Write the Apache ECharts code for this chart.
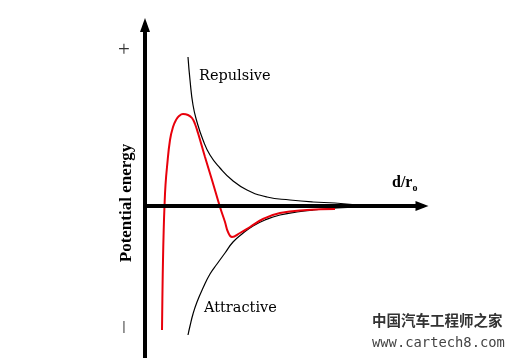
<!DOCTYPE html>
<html>
<head>
<meta charset="utf-8">
<script src="https://cdn.jsdelivr.net/npm/echarts@6/dist/echarts.min.js"></script>
<style>html,body{margin:0;padding:0;background:#fff}#c{width:518px;height:358px}</style>
</head>
<body>
<div id="c"></div>
<script>
// Schematic values (d/r0 units on x, energy units on y)
const repulsiveX = [2.15, 2.25, 2.4, 2.6, 2.9, 3.25, 3.75, 4.35, 5.1, 6.1, 7.25, 8.4, 9.5, 10.65];
const repulsiveY = [7.45, 6.3, 5.05, 4.2, 3.3, 2.55, 1.9, 1.3, 0.8, 0.45, 0.3, 0.2, 0.15, 0.05];

const attractiveX = [2.15, 2.25, 2.4, 2.6, 2.9, 3.25, 3.6, 4.0, 4.4, 4.85, 5.4, 6.0, 6.75, 7.6, 8.4, 9.6, 10.65];
const attractiveY = [-6.45, -6.0, -5.4, -4.8, -4.1, -3.4, -2.9, -2.35, -1.8, -1.4, -1.0, -0.7, -0.45, -0.3, -0.2, -0.1, -0.03];

const netX = [0.85, 0.875, 0.9, 0.935, 0.975, 1.025, 1.1, 1.25, 1.4, 1.55, 1.7, 1.9, 2.15, 2.35, 2.5, 2.65, 3.0, 3.35, 3.75, 4.0, 4.15, 4.35, 4.75, 5.25, 5.9, 6.75, 8.1, 9.5];
const netY = [-6.2, -4.2, -2.7, -1.2, 0, 1.05, 1.95, 3.3, 3.95, 4.3, 4.5, 4.6, 4.55, 4.4, 4.1, 3.65, 2.45, 1.3, -0.05, -0.8, -1.3, -1.55, -1.35, -1.05, -0.65, -0.35, -0.2, -0.15];

const labels = {
  repulsive: 'Repulsive',
  attractive: 'Attractive',
  yName: 'Potential energy',
  plus: '+',
  minus: '|',
  watermark1: '中国汽车工程师之家',
  watermark2: 'www.cartech8.com'
};

const zip = (xs, ys) => xs.map((x, i) => [x, ys[i]]);

const chart = echarts.init(document.getElementById('c'), null, {renderer: 'canvas'});
chart.setOption({
  animation: false,
  backgroundColor: '#fff',
  grid: {left: 145, right: 96, top: 25, bottom: 0, containLabel: false},
  xAxis: {
    type: 'value', min: 0, max: 13.85, z: 10,
    axisLine: {onZero: true, lineStyle: {color: '#000', width: 4}, symbol: ['none', 'triangle'], symbolSize: [10, 13]},
    axisTick: {show: false}, axisLabel: {show: false}, splitLine: {show: false}
  },
  yAxis: {
    type: 'value', min: -7.6, max: 9.05, z: 10,
    axisLine: {onZero: true, lineStyle: {color: '#000', width: 4}, symbol: ['none', 'triangle'], symbolSize: [10, 14]},
    axisTick: {show: false}, axisLabel: {show: false}, splitLine: {show: false}
  },
  series: [
    {type: 'line', data: zip(repulsiveX, repulsiveY), showSymbol: false, smooth: 0.5,
     lineStyle: {color: '#000', width: 1.2}},
    {type: 'line', data: zip(attractiveX, attractiveY), showSymbol: false, smooth: 0.5,
     lineStyle: {color: '#000', width: 1.2}},
    {type: 'line', data: zip(netX, netY), showSymbol: false, smooth: 0.45,
     lineStyle: {color: '#e8000b', width: 2}}
  ],
  graphic: [
    {type: 'text', x: 124, y: 50, style: {text: labels.plus, font: 'normal 21px "Liberation Serif"', fill: '#333', textAlign: 'center', textVerticalAlign: 'middle'}},
    {type: 'text', x: 124, y: 326, style: {text: labels.minus, font: 'normal 13px "Liberation Sans"', fill: '#444', textAlign: 'center', textVerticalAlign: 'middle'}},
    {type: 'text', x: 199, y: 76, style: {text: labels.repulsive, font: 'normal 14.5px "DejaVu Serif"', fill: '#000', textAlign: 'left', textVerticalAlign: 'middle'}},
    {type: 'text', x: 204, y: 308, style: {text: labels.attractive, font: 'normal 14.5px "DejaVu Serif"', fill: '#000', textAlign: 'left', textVerticalAlign: 'middle'}},
    {type: 'text', x: 392, y: 183, style: {text: '{a|d/r}{b|o}', textAlign: 'left', textVerticalAlign: 'middle',
      rich: {a: {font: 'bold 16px "Liberation Serif"', fill: '#000'}, b: {font: 'bold 10px "Liberation Serif"', fill: '#000', padding: [10, 0, 0, 0]}}}},
    {type: 'text', x: 127, y: 203, rotation: Math.PI / 2, style: {text: labels.yName, font: 'bold 17px "Liberation Serif"', fill: '#000', textAlign: 'center', textVerticalAlign: 'middle'}},
    {type: 'text', x: 372, y: 320, style: {text: labels.watermark1, font: 'bold 14.5px "Noto Sans CJK SC"', fill: '#333', textAlign: 'left', textVerticalAlign: 'middle'}},
    {type: 'text', x: 372, y: 343, style: {text: labels.watermark2, font: 'normal 13.8px "DejaVu Sans Mono"', fill: '#444', textAlign: 'left', textVerticalAlign: 'middle'}}
  ]
});
</script>
</body>
</html>
